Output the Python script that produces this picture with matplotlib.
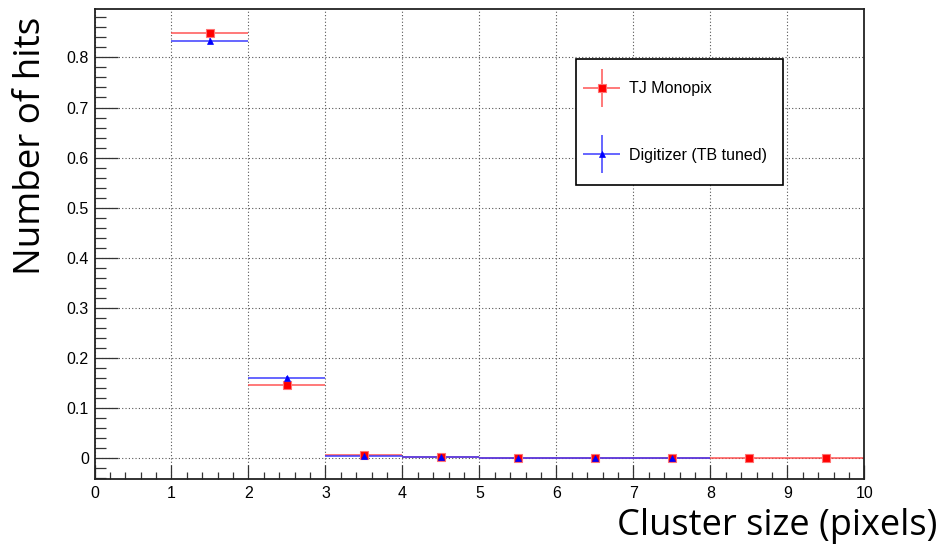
import numpy as np
import matplotlib
matplotlib.use("Agg")
import matplotlib.pyplot as plt
from matplotlib.legend_handler import HandlerErrorbar
from matplotlib.ticker import MultipleLocator

# cluster size bins (pixels), bin centres
bin_centres = [0.5, 1.5, 2.5, 3.5, 4.5, 5.5, 6.5, 7.5, 8.5, 9.5]
bin_halfwidth = 0.5

# normalised number of hits per cluster size (bin 0 empty)
monopix_hits = [np.nan, 0.848, 0.146, 0.0066, 0.0026, 0.0005, 0.0003, 0.0002, 0.0001, 0.0001]
monopix_err = [np.nan, 0.003, 0.002, 0.001, 0.001, 0.0005, 0.0003, 0.0002, 0.0001, 0.0001]
digitizer_hits = [np.nan, 0.833, 0.161, 0.005, 0.002, 0.0004, 0.0002, 0.0001, np.nan, np.nan]
digitizer_err = [np.nan, 0.005, 0.003, 0.001, 0.001, 0.0004, 0.0002, 0.0001, np.nan, np.nan]

fig = plt.figure(figsize=(9.4, 5.45), dpi=100)
ax = fig.add_axes([94.5 / 940, 1 - 479 / 545, 769.8 / 940, 469.7 / 545])

ebar_kw = dict(xerr=bin_halfwidth, linestyle="none", elinewidth=1.4, capsize=0)
ax.errorbar(bin_centres, monopix_hits, yerr=monopix_err, fmt="s", color="red",
            ecolor=(1.0, 0.25, 0.25, 0.7), ms=5.2, mec=(1.0, 0.45, 0.45),
            mew=0.8, label="TJ Monopix", **ebar_kw)
ax.errorbar(bin_centres, digitizer_hits, yerr=digitizer_err, fmt="^", color="blue",
            ecolor=(0.2, 0.2, 1.0, 0.75), ms=4.6, mec="blue", mew=0.5,
            label="Digitizer (TB tuned)", **ebar_kw)

ax.set_xlim(0, 10)
ax.set_ylim(-0.0413, 0.896)
ax.xaxis.set_major_locator(MultipleLocator(1))
ax.xaxis.set_minor_locator(MultipleLocator(0.2))
ax.yaxis.set_major_locator(MultipleLocator(0.1))
ax.yaxis.set_minor_locator(MultipleLocator(0.02))
ax.set_yticks(np.arange(0, 0.81, 0.1))
ax.set_yticklabels([f"{v:g}" for v in np.round(np.arange(0, 0.81, 0.1), 1)])

tick_font = dict(family=["Liberation Sans", "DejaVu Sans"], size=11.5)
for lab in ax.get_xticklabels() + ax.get_yticklabels():
    lab.set_fontfamily(tick_font["family"])
    lab.set_fontsize(tick_font["size"])
ax.tick_params(axis="both", which="both", direction="in", width=0.9, color="#333333",
               top=False, right=False)
ax.tick_params(axis="y", which="major", length=16.5, pad=4)
ax.tick_params(axis="y", which="minor", length=8)
ax.tick_params(axis="x", which="major", length=10, pad=5)
ax.tick_params(axis="x", which="minor", length=5)

ax.grid(True, which="major", color="#555555", linestyle=(0, (1, 2)), linewidth=0.8)
ax.set_axisbelow(True)
for sp in ax.spines.values():
    sp.set_linewidth(1.3)
    sp.set_color("#222222")

hmap = {c: HandlerErrorbar(xerr_size=1.15, yerr_size=1.19)
        for c in ax.get_legend_handles_labels()[0]}
leg = ax.legend(loc="upper left", bbox_to_anchor=(0.6255, 0.894, 0.2689, 0),
                mode="expand", borderaxespad=0,
                prop=dict(family=["Liberation Sans", "DejaVu Sans"], size=11.5),
                handleheight=0.7, handlelength=0.4, handletextpad=1.5,
                labelspacing=3.2, borderpad=1.4, fancybox=False, framealpha=1,
                edgecolor="black", handler_map=hmap)
leg.get_frame().set_linewidth(1.2)

label_font = ["Open Sans", "DejaVu Sans"]
fig.text(937 / 940, 1 - 535 / 545, "Cluster size (pixels)", ha="right", va="baseline",
         fontsize=26, family=label_font)
fig.text(31 / 940, 1 - 17 / 545, "Number of hits", ha="center", va="top",
         rotation=90, fontsize=26.5, family=label_font)

fig.savefig("out.png", dpi=100)
